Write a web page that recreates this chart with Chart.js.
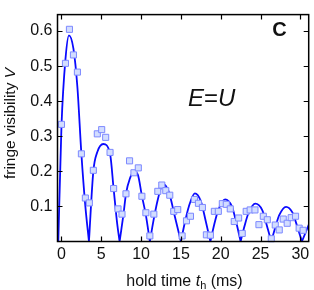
<!DOCTYPE html>
<html>
<head>
<meta charset="utf-8">
<script src="https://cdn.jsdelivr.net/npm/chart.js@4.4.1/dist/chart.umd.min.js"></script>
<style>
  body { margin: 0; background: #fff; }
  canvas { display: block; }
</style>
</head>
<body>
<canvas id="fringeChart" width="314" height="290"></canvas>
<script>

// measured points (hold time in ms, visibility)
const holdT = [0.0, 0.5, 1.0, 1.5, 2.0, 2.5, 3.0, 3.5, 4.0, 4.5, 5.05, 5.55, 6.1, 6.55, 7.1, 7.6,
  8.1, 8.55, 9.1, 9.65, 10.1, 10.6, 11.1, 11.6, 12.1, 12.6, 13.1, 13.6, 14.1, 14.6, 15.15, 15.7,
  16.2, 16.7, 17.2, 17.7, 18.2, 18.7, 19.2, 19.7, 20.2, 20.7, 21.2, 21.7, 22.25, 22.7, 23.2, 23.7,
  24.3, 24.8, 25.35, 25.85, 26.35, 26.85, 27.35, 27.85, 28.35, 28.85, 29.4, 29.85, 30.35]
const visV = [0.334, 0.508, 0.605, 0.532, 0.483, 0.25, 0.124, 0.11, 0.203, 0.307, 0.319, 0.297, 0.254, 0.151, 0.093, 0.078,
  0.136, 0.23, 0.196, 0.21, 0.129, 0.082, 0.016, 0.078, 0.143, 0.161, 0.145, 0.132, 0.086, 0.091, 0.016, 0.059,
  0.072, 0.12, 0.109, 0.097, 0.019, 0.018, 0.086, 0.086, 0.108, 0.106, 0.093, 0.057, 0.067, 0.023, 0.086, 0.09,
  0.09, 0.048, 0.072, 0.062, 0.008, 0.047, 0.033, 0.064, 0.052, 0.068, 0.072, 0.038, 0.032]

// fitted curve, one lobe per run, null = cusp break
const fitT = [-0.4, 0.0, 0.5, 0.94, 1.5, 2.0, 2.5, 3.0, 3.45, null,
  3.45, 4.0, 4.5, 5.25, 6.1, 6.55, 7.0, 7.3, null,
  7.3, 7.8, 8.1, 8.6, 9.1, 9.6, 10.1, 10.6, 11.1, null,
  11.1, 11.6, 12.1, 12.75, 13.5, 14.2, 15.0, null,
  15.0, 15.5, 16.0, 16.75, 17.5, 18.1, 18.7, null,
  18.7, 19.2, 19.7, 20.55, 21.4, 22.0, 22.5, null,
  22.5, 23.0, 23.5, 24.35, 25.2, 25.8, 26.35, null,
  26.35, 26.85, 27.35, 28.2, 29.0, 29.65, 30.2, null,
  30.2, 31.1]
const fitV = [0, 0.33, 0.52, 0.588, 0.55, 0.44, 0.25, 0.1, 0, null,
  0, 0.2, 0.255, 0.278, 0.25, 0.15, 0.05, 0, null,
  0, 0.08, 0.136, 0.18, 0.2, 0.19, 0.13, 0.075, 0, null,
  0, 0.065, 0.12, 0.164, 0.14, 0.075, 0, null,
  0, 0.055, 0.1, 0.137, 0.115, 0.06, 0, null,
  0, 0.05, 0.09, 0.12, 0.1, 0.05, 0, null,
  0, 0.045, 0.082, 0.108, 0.09, 0.045, 0, null,
  0, 0.04, 0.075, 0.099, 0.083, 0.04, 0, null,
  0, 0.05]

const xTicks = [0, 5, 10, 15, 20, 25, 30]
const yTicks = [0.1, 0.2, 0.3, 0.4, 0.5, 0.6]

const tickFont = { family: 'Liberation Sans, Arial, sans-serif', size: 16 }

// frame, inward ticks, axis titles and the panel texts
const framePlugin = {
    id: 'frame',
    afterDraw(chart) {
        const { ctx, chartArea: a, scales: { x, y } } = chart
        ctx.save()
        ctx.strokeStyle = '#000'
        ctx.lineWidth = 1.5
        ctx.strokeRect(a.left, a.top, a.right - a.left, a.bottom - a.top)
        ctx.lineWidth = 1.2
        ctx.beginPath()
        xTicks.forEach(v => {
            const px = Math.round(x.getPixelForValue(v)) + 0.5
            ctx.moveTo(px, a.bottom); ctx.lineTo(px, a.bottom - 5)
            ctx.moveTo(px, a.top); ctx.lineTo(px, a.top + 5)
        })
        yTicks.forEach(v => {
            const py = Math.round(y.getPixelForValue(v)) + 0.5
            ctx.moveTo(a.left, py); ctx.lineTo(a.left + 5, py)
            ctx.moveTo(a.right, py); ctx.lineTo(a.right - 5, py)
        })
        ctx.stroke()

        ctx.fillStyle = '#111'
        ctx.textBaseline = 'alphabetic'
        const fam = 'Liberation Sans, Arial, sans-serif'

        // x title: hold time t_h (ms)
        const parts = [
            { t: 'hold time ', f: `16px ${fam}`, dy: 0 },
            { t: 't', f: `italic 16px ${fam}`, dy: 0 },
            { t: 'h', f: `11px ${fam}`, dy: 3 },
            { t: ' (ms)', f: `16px ${fam}`, dy: 0 }
        ]
        let w = 0
        parts.forEach(p => { ctx.font = p.f; p.w = ctx.measureText(p.t).width; w += p.w })
        let cx = 184.5 - w / 2
        ctx.textAlign = 'left'
        parts.forEach(p => { ctx.font = p.f; ctx.fillText(p.t, cx, 285.5 + p.dy); cx += p.w })

        // y title: fringe visibility V
        ctx.save()
        ctx.translate(15, 123.5)
        ctx.rotate(-Math.PI / 2)
        ctx.font = `15.5px ${fam}`
        const a1 = 'fringe visibility '
        const w1 = ctx.measureText(a1).width
        ctx.font = `italic 15.5px ${fam}`
        const w2 = ctx.measureText('V').width
        let sx = -(w1 + w2) / 2
        ctx.font = `15.5px ${fam}`
        ctx.fillText(a1, sx, 0)
        ctx.font = `italic 15.5px ${fam}`
        ctx.fillText('V', sx + w1, 0)
        ctx.restore()

        // panel label and condition
        ctx.textAlign = 'center'
        ctx.font = `bold 20px ${fam}`
        ctx.fillText('C', 279.5, 36)

        ctx.textAlign = 'left'
        const e1 = 'E', e2 = '=', e3 = 'U'
        ctx.font = `italic 24px ${fam}`
        const we = ctx.measureText(e1).width
        ctx.font = `24px ${fam}`
        const wq = ctx.measureText(e2).width
        let ex = 188
        ctx.font = `italic 24px ${fam}`
        ctx.fillText(e1, ex, 106)
        ctx.font = `24px ${fam}`
        ctx.fillText(e2, ex + we, 106)
        ctx.font = `italic 24px ${fam}`
        ctx.fillText(e3, ex + we + wq, 106)
        ctx.restore()
    }
}

new Chart(document.getElementById('fringeChart'), {
    type: 'scatter',
    data: {
        datasets: [
            {
                data: holdT.map((t, i) => ({ x: t, y: visV[i] })),
                pointStyle: 'rect',
                pointRadius: 4.3,
                backgroundColor: '#d2ddff',
                borderColor: '#7d89ff',
                borderWidth: 1,
                clip: false,
                order: 0
            },
            {
                data: fitT.map((t, i) => ({ x: t, y: fitV[i] })),
                showLine: true,
                pointRadius: 0,
                borderColor: '#0a0aff',
                borderWidth: 1.8,
                cubicInterpolationMode: 'monotone',
                spanGaps: false,
                order: 1
            }
        ]
    },
    options: {
        responsive: false,
        animation: false,
        devicePixelRatio: 1,
        layout: { padding: { top: 2, right: 4, left: 0, bottom: 0 } },
        plugins: { legend: { display: false }, tooltip: { enabled: false } },
        scales: {
            x: {
                type: 'linear',
                min: -0.5,
                max: 31.05,
                afterBuildTicks: s => { s.ticks = xTicks.map(v => ({ value: v })) },
                afterFit: s => { s.height = 48.5 },
                ticks: { font: tickFont, color: '#111', padding: 3, maxRotation: 0, autoSkip: false },
                grid: { display: false, drawTicks: false },
                border: { display: false }
            },
            y: {
                min: 0,
                max: 0.647,
                afterBuildTicks: s => { s.ticks = yTicks.map(v => ({ value: v })) },
                afterFit: s => { s.width = 57.5 },
                ticks: { font: tickFont, color: '#111', padding: 5, callback: v => v.toFixed(1) },
                grid: { display: false, drawTicks: false },
                border: { display: false }
            }
        }
    },
    plugins: [framePlugin]
})
</script>
</body>
</html>
